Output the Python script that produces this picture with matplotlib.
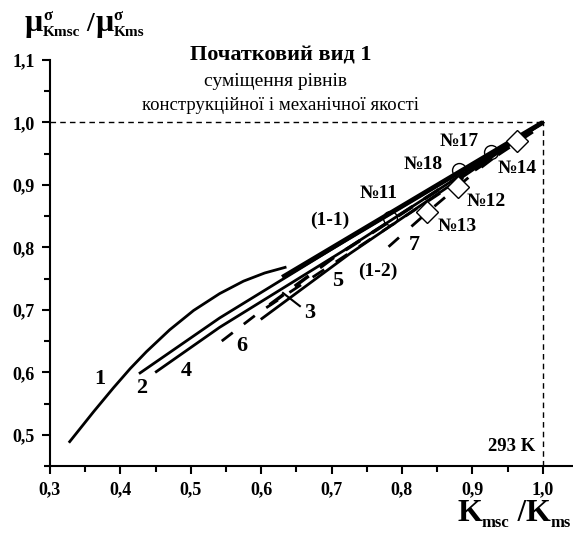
import matplotlib
matplotlib.use("Agg")
import matplotlib.pyplot as plt
from matplotlib.ticker import MultipleLocator, FuncFormatter

plt.rcParams['font.family'] = ['Liberation Serif', 'DejaVu Serif']

# ---- data ----
c1_x = [0.328, 0.362, 0.390, 0.414, 0.437, 0.470, 0.504, 0.541, 0.575, 0.605, 0.634]
c1_y = [0.489, 0.537, 0.575, 0.606, 0.633, 0.668, 0.699, 0.726, 0.746, 0.759, 0.768]
c2_x = [0.428, 0.541, 0.726, 1.0]
c2_y = [0.599, 0.687, 0.815, 1.0]
c4_x = [0.451, 0.541, 0.726, 1.0]
c4_y = [0.601, 0.672, 0.801, 1.0]
c5_x = [0.601, 0.726, 1.0]
c5_y = [0.686, 0.790, 1.0]
c3_x = [0.612, 0.702, 1.0]
c3_y = [0.708, 0.783, 1.0]
c6_x = [0.544, 0.596, 1.0]
c6_y = [0.650, 0.695, 0.995]
c7_x = [0.781, 0.837, 0.901, 0.950]
c7_y = [0.801, 0.857, 0.918, 0.960]
c11_x = [0.630, 1.0]
c11_y = [0.752, 1.0]

circ_x = [0.783, 0.881, 0.927]
circ_y = [0.847, 0.924, 0.953]
circ_lab = ['№11', '№18', '№17']
diam_x = [0.835, 0.880, 0.964]
diam_y = [0.856, 0.896, 0.970]
diam_lab = ['№13', '№12', '№14']

xticks = [0.3, 0.4, 0.5, 0.6, 0.7, 0.8, 0.9, 1.0]
yticks = [0.5, 0.6, 0.7, 0.8, 0.9, 1.0, 1.1]

W, H = 573, 534
fig = plt.figure(figsize=(W / 100, H / 100), dpi=100)
ax = fig.add_axes([50 / W, 68 / H, 523 / W, 406 / H])
ax.set_xlim(0.3, 1.043)
ax.set_ylim(0.45, 1.1)
for s in ['top', 'right']:
    ax.spines[s].set_visible(False)
for s in ['left', 'bottom']:
    ax.spines[s].set_linewidth(1.5)

ax.set_xticks(xticks)
ax.set_yticks(yticks)
ax.xaxis.set_minor_locator(MultipleLocator(0.05))
ax.yaxis.set_minor_locator(MultipleLocator(0.05))
fmt = FuncFormatter(lambda v, p: f"{v:.1f}".replace('.', ','))
ax.xaxis.set_major_formatter(fmt)
ax.yaxis.set_major_formatter(fmt)
ax.tick_params(which='major', direction='out', length=6, width=1.5, labelsize=13, pad=5)
ax.tick_params(which='minor', direction='out', length=4, width=1.5)
for lab in ax.get_xticklabels() + ax.get_yticklabels():
    lab.set_fontweight('bold')

# reference dashed lines
ax.plot([0.3, 1.0], [1.0, 1.0], color='black', lw=1, dashes=(4, 3))
ax.plot([1.0, 1.0], [0.45, 1.0], color='black', lw=1, dashes=(4, 3))

k = 'black'
ax.plot(c1_x, c1_y, color=k, lw=2)
ax.plot(c2_x, c2_y, color=k, lw=2)
ax.plot(c4_x, c4_y, color=k, lw=2)
ax.plot(c5_x, c5_y, color=k, lw=2)
ax.plot(c3_x, c3_y, color=k, lw=2.5, dashes=(5, 4))
ax.plot(c6_x, c6_y, color=k, lw=2, dashes=(5, 5))
ax.plot(c7_x, c7_y, color=k, lw=2, dashes=(5, 6))
ax.plot(c11_x, c11_y, color=k, lw=3.5, solid_capstyle='butt')

ax.plot(circ_x, circ_y, 'o', ms=10, mfc='none', mec=k, mew=1)
ax.plot(diam_x, diam_y, 'D', ms=11, mfc='white', mec=k, mew=1)

bold = dict(fontweight='bold', ha='center', va='center')
for x, y, t in zip([0.767, 0.830, 0.882], [0.886, 0.932, 0.969], circ_lab):
    ax.text(x, y, t, fontsize=14, **bold)
for x, y, t in zip([0.878, 0.920, 0.964], [0.833, 0.873, 0.927], diam_lab):
    ax.text(x, y, t, fontsize=14, **bold)

num_labels = [('1', 0.371, 0.589), ('2', 0.430, 0.575), ('4', 0.494, 0.602),
              ('6', 0.572, 0.642), ('3', 0.669, 0.695), ('5', 0.709, 0.746),
              ('7', 0.818, 0.804)]
for t, x, y in num_labels:
    ax.text(x, y, t, fontsize=16, **bold)
ax.text(0.766, 0.762, '(1-2)', fontsize=14, **bold)
ax.text(0.698, 0.844, '(1-1)', fontsize=14, **bold)
ax.plot([0.631, 0.655], [0.727, 0.706], color=k, lw=1.5)

ax.text(0.989, 0.482, '293 K', fontsize=13.5, fontweight='bold', ha='right', va='center')

fig.text(281 / W, 1 - 55 / H, 'Початковий вид 1', fontsize=16, fontweight='bold',
         ha='center', va='center')
fig.text(276 / W, 1 - 82 / H, 'суміщення рівнів', fontsize=14, ha='center', va='center')
fig.text(280 / W, 1 - 105 / H, 'конструкційної і механічної якості', fontsize=13.5,
         ha='center', va='center')

# composed axis labels (pixel positions from top-left)
renderer = fig.canvas.get_renderer()


def compose(x0, base_y, groups, right=None):
    made = []
    widths = []
    for group in groups:
        texts = []
        wmax = 0
        for txt, size, dy in group:
            t = fig.text(0, 1 - (base_y - dy) / H, txt, fontsize=size,
                         fontweight='bold', ha='left', va='baseline')
            wmax = max(wmax, t.get_window_extent(renderer).width)
            texts.append(t)
        made.append(texts)
        widths.append(wmax)
    if right is not None:
        x0 = right - sum(widths)
    x = x0
    for texts, w in zip(made, widths):
        for t in texts:
            t.set_x(x / W)
        x += w


compose(25, 31, [[('μ', 23, 0)], [('σ', 12, 11), ('Kmsc', 11, -5)],
                 [(' /', 20, 0)], [('μ', 23, 0)], [('σ', 12, 11), ('Kms', 11, -5)]])
compose(0, 521, [[('K', 23, 0)], [('msc', 12, -6)], [(' /', 22, 0)],
                 [('K', 23, 0)], [('ms', 12, -6)]], right=571)

fig.savefig('out.png', dpi=100)
